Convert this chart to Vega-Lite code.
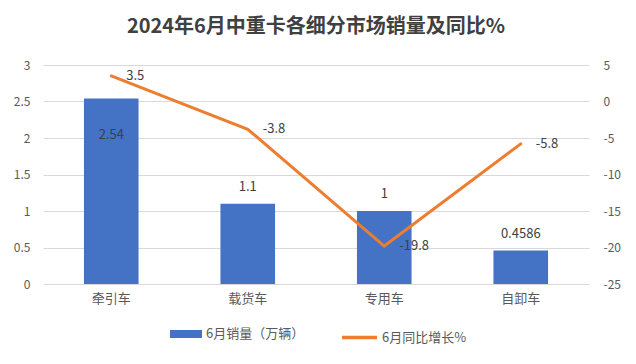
{
  "$schema": "https://vega.github.io/schema/vega-lite/v6.json",
  "width": 546,
  "height": 219,
  "autosize": "none",
  "padding": {"left": 43, "top": 65, "right": 47, "bottom": 80},
  "background": "white",
  "config": {"font": "Noto Sans CJK SC", "view": {"stroke": null}},
  "title": {"text": "2024年6月中重卡各细分市场销量及同比%", "fontSize": 20, "fontWeight": "bold", "color": "#404040", "offset": 22, "anchor": "middle", "font": "Noto Sans CJK SC"},
  "data": {"values": [
    {"cat": "牵引车", "sales": 2.54, "yoy": 3.5},
    {"cat": "载货车", "sales": 1.1, "yoy": -3.8},
    {"cat": "专用车", "sales": 1, "yoy": -19.8},
    {"cat": "自卸车", "sales": 0.4586, "yoy": -5.8}
  ]},
  "encoding": {
    "x": {"field": "cat", "type": "nominal", "sort": null,
      "scale": {"paddingInner": 0.6, "paddingOuter": 0.3},
      "axis": {"title": null, "domain": false, "ticks": false, "labelAngle": 0, "labelFontSize": 13, "labelColor": "#595959", "labelPadding": 8}}
  },
  "layer": [
    {
      "encoding": {
        "y": {"field": "sales", "type": "quantitative", "scale": {"domain": [0, 3], "nice": false},
          "axis": {"title": null, "values": [0, 0.5, 1, 1.5, 2, 2.5, 3], "tickCount": 7, "labelExpr": "'' + datum.value", "labelOverlap": false, "labelFlush": false, "domain": false, "ticks": false, "grid": true, "gridColor": "#D9D9D9", "labelColor": "#595959", "labelFontSize": 12, "labelPadding": 13}}
      },
      "layer": [
        {"mark": {"type": "bar"},
         "encoding": {
           "fill": {"datum": "6月销量（万辆）", "type": "nominal", "scale": {"range": ["#4472C4"]},
             "legend": {"title": null, "orient": "none", "legendX": 127, "legendY": 253, "symbolType": "M-1,-0.25H1V0.25H-1Z", "symbolSize": 1024, "symbolStrokeWidth": 0, "labelFontSize": 13, "labelColor": "#595959", "labelOffset": 4}}
         }},
        {"transform": [{"filter": "datum.cat !== '牵引车'"}],
         "mark": {"type": "text", "baseline": "middle", "dy": -17, "fontSize": 13, "color": "#404040"},
         "encoding": {"text": {"field": "sales", "type": "nominal"}}},
        {"transform": [{"filter": "datum.cat === '牵引车'"}],
         "mark": {"type": "text", "baseline": "middle", "dy": 36, "fontSize": 13, "color": "#404040"},
         "encoding": {"text": {"field": "sales", "type": "nominal"}}}
      ]
    },
    {
      "encoding": {
        "y": {"field": "yoy", "type": "quantitative", "scale": {"domain": [-25, 5], "nice": false},
          "axis": {"orient": "right", "title": null, "values": [-25, -20, -15, -10, -5, 0, 5], "tickCount": 7, "labelExpr": "'' + datum.value", "labelOverlap": false, "labelFlush": false, "domain": false, "ticks": false, "grid": false, "labelColor": "#595959", "labelFontSize": 12, "labelPadding": 14}}
      },
      "layer": [
        {"mark": {"type": "line", "strokeWidth": 3, "strokeCap": "round"},
         "encoding": {
           "stroke": {"datum": "6月同比增长%", "type": "nominal", "scale": {"range": ["#ED7D31"]},
             "legend": {"title": null, "orient": "none", "legendX": 297, "legendY": 253, "symbolType": "stroke", "symbolSize": 1225, "symbolStrokeWidth": 3.5, "labelFontSize": 13, "labelColor": "#595959", "labelOffset": 3}}
         }},
        {"mark": {"type": "text", "align": "left", "baseline": "middle", "dx": 15, "fontSize": 13, "color": "#404040"},
         "encoding": {"text": {"field": "yoy", "type": "nominal"}}}
      ]
    }
  ],
  "resolve": {"scale": {"y": "independent"}}
}
